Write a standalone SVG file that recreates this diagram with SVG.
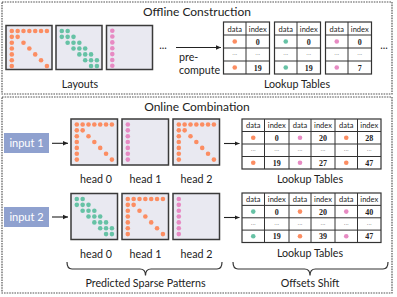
<svg xmlns="http://www.w3.org/2000/svg" xmlns:xlink="http://www.w3.org/1999/xlink" width="397" height="297" viewBox="0 0 397 297">
<style>
.frame{fill:none;stroke:#555;stroke-width:1.2;stroke-dasharray:1.6 1}
.sq{fill:#E9E9F1;stroke:#3a3a3a;stroke-width:1.5}
.o{fill:#FC8D62}.g{fill:#66C2A5}.p{fill:#E78AC3}
.t{font-family:Lato,"Liberation Sans",sans-serif;font-size:10.7px;fill:#222;text-anchor:middle}
.title{font-size:12px}
.tb{fill:#fff;stroke:#333;stroke-width:1.2}
.tl{stroke:#333;stroke-width:1}
.th{font-family:Lato,"Liberation Sans",sans-serif;font-size:7.5px;fill:#222;text-anchor:middle}
.tn{font-family:"Liberation Serif",serif;font-weight:bold;font-size:8px;fill:#222;text-anchor:middle}
.te{font-family:"Liberation Sans",sans-serif;font-size:6px;fill:#444;text-anchor:middle}
.ln{stroke:#222;stroke-width:1.1;fill:none}
.br{stroke:#333;stroke-width:1.2;fill:none}
.inp{fill:#8FA1CF}
.it{font-family:Lato,"Liberation Sans",sans-serif;font-size:11px;fill:#fff;text-anchor:middle}
</style>
<defs>
<marker id="ah" markerWidth="6" markerHeight="6" refX="5" refY="3" orient="auto" markerUnits="userSpaceOnUse">
<path d="M0,0.8 L5,3 L0,5.2 Z" fill="#222"/>
</marker>
<g id="pA" class="o">
<circle cx="5.8" cy="5.5" r="2.3"/><circle cx="11.65" cy="5.5" r="2.3"/><circle cx="17.5" cy="5.5" r="2.3"/><circle cx="23.35" cy="5.5" r="2.3"/><circle cx="29.2" cy="5.5" r="2.3"/><circle cx="35.05" cy="5.5" r="2.3"/><circle cx="40.9" cy="5.5" r="2.3"/>
<circle cx="5.8" cy="11.35" r="2.3"/><circle cx="11.65" cy="11.35" r="2.3"/>
<circle cx="5.8" cy="17.2" r="2.3"/><circle cx="17.5" cy="17.2" r="2.3"/>
<circle cx="5.8" cy="23.05" r="2.3"/><circle cx="23.35" cy="23.05" r="2.3"/>
<circle cx="5.8" cy="28.9" r="2.3"/><circle cx="29.2" cy="28.9" r="2.3"/>
<circle cx="5.8" cy="34.75" r="2.3"/><circle cx="35.05" cy="34.75" r="2.3"/>
<circle cx="5.8" cy="40.6" r="2.3"/><circle cx="40.9" cy="40.6" r="2.3"/>
</g>
<g id="pB" class="g">
<circle cx="5.8" cy="5.5" r="2.3"/><circle cx="11.65" cy="5.5" r="2.3"/>
<circle cx="5.8" cy="11.35" r="2.3"/><circle cx="11.65" cy="11.35" r="2.3"/><circle cx="17.5" cy="11.35" r="2.3"/>
<circle cx="11.65" cy="17.2" r="2.3"/><circle cx="17.5" cy="17.2" r="2.3"/><circle cx="23.35" cy="17.2" r="2.3"/>
<circle cx="17.5" cy="23.05" r="2.3"/><circle cx="23.35" cy="23.05" r="2.3"/><circle cx="29.2" cy="23.05" r="2.3"/>
<circle cx="23.35" cy="28.9" r="2.3"/><circle cx="29.2" cy="28.9" r="2.3"/><circle cx="35.05" cy="28.9" r="2.3"/>
<circle cx="29.2" cy="34.75" r="2.3"/><circle cx="35.05" cy="34.75" r="2.3"/><circle cx="40.9" cy="34.75" r="2.3"/>
<circle cx="35.05" cy="40.6" r="2.3"/><circle cx="40.9" cy="40.6" r="2.3"/>
</g>
<g id="pC" class="p">
<circle cx="5.8" cy="5.5" r="2.3"/><circle cx="5.8" cy="11.35" r="2.3"/><circle cx="5.8" cy="17.2" r="2.3"/><circle cx="5.8" cy="23.05" r="2.3"/><circle cx="5.8" cy="28.9" r="2.3"/><circle cx="5.8" cy="34.75" r="2.3"/><circle cx="5.8" cy="40.6" r="2.3"/>
</g>
</defs>

<rect width="397" height="297" fill="#fff"/>

<g id="offline-frame">
<rect class="frame" x="2" y="2" width="390" height="92"/>
<text class="t title" x="197" y="16">Offline Construction</text>
</g>
<g id="online-frame">
<rect class="frame" x="2" y="97" width="390" height="196"/>
<text class="t title" x="197" y="111">Online Combination</text>
</g>

<!-- Offline layouts -->
<g id="layout-0" transform="translate(6,25.5)"><rect class="sq" width="46" height="44"/><use xlink:href="#pA"/></g>
<g id="layout-1" transform="translate(56,25.5)"><rect class="sq" width="46" height="44"/><use xlink:href="#pB"/></g>
<g id="layout-2" transform="translate(106.5,25.5)"><rect class="sq" width="46" height="44"/><use xlink:href="#pC" y="-0.3"/></g>
<text class="t" x="163" y="49">...</text>
<text class="t" x="80" y="88">Layouts</text>

<!-- Offline tables -->
<g id="table-off-0" transform="translate(223.5,22)">
<rect class="tb" width="46" height="52"/>
<path class="tl" d="M22.5,0V52M0,13H46M0,26H46M0,39H46"/>
<text class="th" x="11.25" y="9.5">data</text><text class="th" x="34.25" y="9.5">index</text>
<circle class="o" cx="11.25" cy="19.5" r="2.3"/><text class="tn" x="34.25" y="22.5">0</text>
<text class="te" x="11.25" y="33">...</text><text class="te" x="34.25" y="33">...</text>
<circle class="o" cx="11.25" cy="45.5" r="2.3"/><text class="tn" x="34.25" y="48.5">19</text>
</g>
<g id="table-off-1" transform="translate(274.5,22)">
<rect class="tb" width="46" height="52"/>
<path class="tl" d="M22.5,0V52M0,13H46M0,26H46M0,39H46"/>
<text class="th" x="11.25" y="9.5">data</text><text class="th" x="34.25" y="9.5">index</text>
<circle class="g" cx="11.25" cy="19.5" r="2.3"/><text class="tn" x="34.25" y="22.5">0</text>
<text class="te" x="11.25" y="33">...</text><text class="te" x="34.25" y="33">...</text>
<circle class="g" cx="11.25" cy="45.5" r="2.3"/><text class="tn" x="34.25" y="48.5">19</text>
</g>
<g id="table-off-2" transform="translate(325.5,22)">
<rect class="tb" width="46" height="52"/>
<path class="tl" d="M22.5,0V52M0,13H46M0,26H46M0,39H46"/>
<text class="th" x="11.25" y="9.5">data</text><text class="th" x="34.25" y="9.5">index</text>
<circle class="p" cx="11.25" cy="19.5" r="2.3"/><text class="tn" x="34.25" y="22.5">0</text>
<text class="te" x="11.25" y="33">...</text><text class="te" x="34.25" y="33">...</text>
<circle class="p" cx="11.25" cy="45.5" r="2.3"/><text class="tn" x="34.25" y="48.5">7</text>
</g>
<text class="t" x="384" y="49">...</text>
<text class="t" x="297" y="88">Lookup Tables</text>

<!-- Online row 1 -->
<g id="input-1"><rect class="inp" x="4" y="133" width="45" height="20"/><text class="it" x="26.5" y="147">input 1</text></g>
<g id="head-1-0" transform="translate(71,119)"><rect class="sq" width="46.5" height="46"/><use xlink:href="#pA"/></g>
<g id="head-1-1" transform="translate(122,119)"><rect class="sq" width="46.5" height="46"/><use xlink:href="#pC"/></g>
<g id="head-1-2" transform="translate(173,119)"><rect class="sq" width="46.5" height="46"/><use xlink:href="#pA"/></g>
<text class="t" x="96" y="182.5">head 0</text>
<text class="t" x="145.5" y="182.5">head 1</text>
<text class="t" x="196.5" y="182.5">head 2</text>
<g id="table-on-1" transform="translate(242,119)">
<rect class="tb" width="139" height="50"/>
<path class="tl" d="M22.5,0V50M47,0V50M69,0V50M93,0V50M115.5,0V50M0,12.5H139M0,25H139M0,37.5H139"/>
<text class="th" x="11.25" y="9">data</text><text class="th" x="34.75" y="9">index</text><text class="th" x="58" y="9">data</text><text class="th" x="81" y="9">index</text><text class="th" x="104.25" y="9">data</text><text class="th" x="127.25" y="9">index</text>
<circle class="o" cx="11.25" cy="18.75" r="2.3"/><text class="tn" x="34.75" y="21.8">0</text>
<circle class="p" cx="58" cy="18.75" r="2.3"/><text class="tn" x="81" y="21.8">20</text>
<circle class="o" cx="104.25" cy="18.75" r="2.3"/><text class="tn" x="127.25" y="21.8">28</text>
<text class="te" x="11.25" y="32">...</text><text class="te" x="34.75" y="32">...</text><text class="te" x="58" y="32">...</text><text class="te" x="81" y="32">...</text><text class="te" x="104.25" y="32">...</text><text class="te" x="127.25" y="32">...</text>
<circle class="o" cx="11.25" cy="43.75" r="2.3"/><text class="tn" x="34.75" y="46.8">19</text>
<circle class="p" cx="58" cy="43.75" r="2.3"/><text class="tn" x="81" y="46.8">27</text>
<circle class="o" cx="104.25" cy="43.75" r="2.3"/><text class="tn" x="127.25" y="46.8">47</text>
</g>
<text class="t" x="310" y="182.5">Lookup Tables</text>

<!-- Online row 2 -->
<g id="input-2"><rect class="inp" x="4" y="207" width="45" height="20"/><text class="it" x="26.5" y="221">input 2</text></g>
<g id="head-2-0" transform="translate(71,193.5)"><rect class="sq" width="46.5" height="46"/><use xlink:href="#pB"/></g>
<g id="head-2-1" transform="translate(122,193.5)"><rect class="sq" width="46.5" height="46"/><use xlink:href="#pA"/></g>
<g id="head-2-2" transform="translate(173,193.5)"><rect class="sq" width="46.5" height="46"/><use xlink:href="#pC"/></g>
<text class="t" x="96" y="257.5">head 0</text>
<text class="t" x="145.5" y="257.5">head 1</text>
<text class="t" x="196.5" y="257.5">head 2</text>
<g id="table-on-2" transform="translate(242,193)">
<rect class="tb" width="139" height="49.5"/>
<path class="tl" d="M22.5,0V49.5M47,0V49.5M69,0V49.5M93,0V49.5M115.5,0V49.5M0,12.4H139M0,24.8H139M0,37.1H139"/>
<text class="th" x="11.25" y="9">data</text><text class="th" x="34.75" y="9">index</text><text class="th" x="58" y="9">data</text><text class="th" x="81" y="9">index</text><text class="th" x="104.25" y="9">data</text><text class="th" x="127.25" y="9">index</text>
<circle class="g" cx="11.25" cy="18.6" r="2.3"/><text class="tn" x="34.75" y="21.6">0</text>
<circle class="o" cx="58" cy="18.6" r="2.3"/><text class="tn" x="81" y="21.6">20</text>
<circle class="p" cx="104.25" cy="18.6" r="2.3"/><text class="tn" x="127.25" y="21.6">40</text>
<text class="te" x="11.25" y="31.8">...</text><text class="te" x="34.75" y="31.8">...</text><text class="te" x="58" y="31.8">...</text><text class="te" x="81" y="31.8">...</text><text class="te" x="104.25" y="31.8">...</text><text class="te" x="127.25" y="31.8">...</text>
<circle class="g" cx="11.25" cy="43.3" r="2.3"/><text class="tn" x="34.75" y="46.3">19</text>
<circle class="o" cx="58" cy="43.3" r="2.3"/><text class="tn" x="81" y="46.3">39</text>
<circle class="p" cx="104.25" cy="43.3" r="2.3"/><text class="tn" x="127.25" y="46.3">47</text>
</g>
<text class="t" x="310" y="256.5">Lookup Tables</text>

<!-- Braces and bottom labels -->
<g id="brace-patterns">
<path class="br" d="M67,262 Q67,269 72,269 L140,269 Q145.5,269 145.5,275.5 Q145.5,269 151,269 L217,269 Q222,269 222,262"/>
<text class="t" x="145.5" y="287">Predicted Sparse Patterns</text>
</g>
<g id="brace-offsets">
<path class="br" d="M233,262 Q233,269 238,269 L304.5,269 Q310,269 310,275.5 Q310,269 315.5,269 L383,269 Q388,269 388,262"/>
<text class="t" x="310" y="287">Offsets Shift</text>
</g>

<!-- Connectors -->
<g id="connectors">
<line class="ln" x1="176" y1="47.5" x2="221" y2="47.5" marker-end="url(#ah)"/>
<text class="t" x="179" y="60.5" style="text-anchor:start">pre-</text>
<text class="t" x="179" y="74" style="text-anchor:start">compute</text>
<line class="ln" x1="52" y1="143.3" x2="68" y2="143.3" marker-end="url(#ah)"/>
<line class="ln" x1="224" y1="143.5" x2="239.5" y2="143.5" marker-end="url(#ah)"/>
<line class="ln" x1="52" y1="217" x2="68" y2="217" marker-end="url(#ah)"/>
<line class="ln" x1="224" y1="217.5" x2="239.5" y2="217.5" marker-end="url(#ah)"/>
</g>
</svg>
